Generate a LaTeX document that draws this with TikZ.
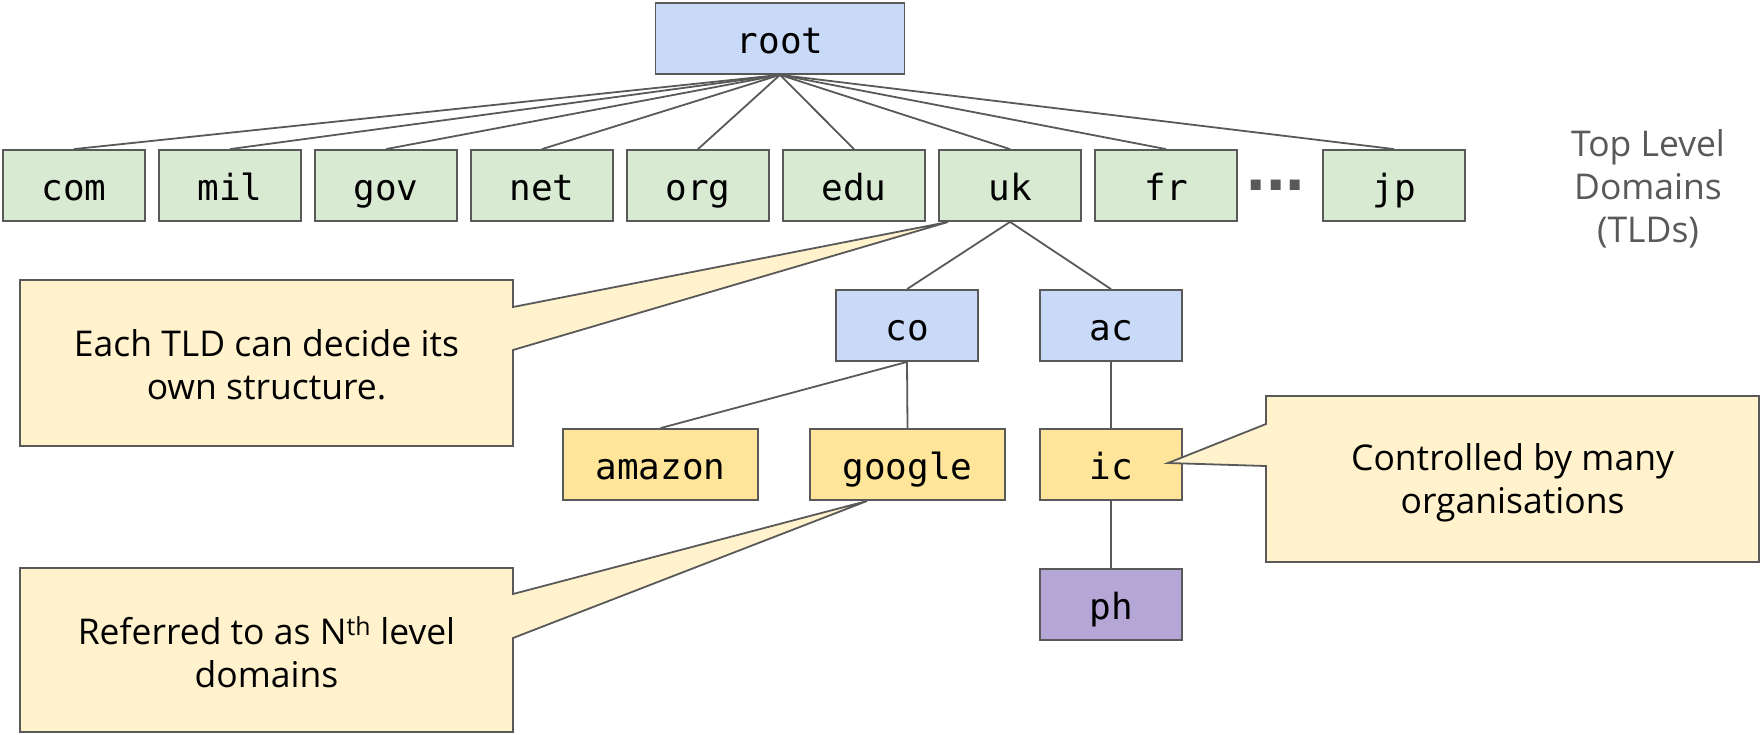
\documentclass[tikz,border=0pt]{standalone}
\usepackage{fontspec}
\setmainfont{Open Sans}
\newfontfamily\monof{DejaVu Sans Mono}
\newfontfamily\dotf{Liberation Sans}
\definecolor{edge}{HTML}{595959}
\definecolor{bluef}{HTML}{C9DAF8}
\definecolor{greenf}{HTML}{D9EAD3}
\definecolor{yellowf}{HTML}{FFE599}
\definecolor{notef}{HTML}{FFF2CC}
\definecolor{purplef}{HTML}{B4A7D6}
\definecolor{labelgray}{HTML}{595959}
\tikzset{
  dbox/.style={draw=edge, line width=1.8pt, minimum width=142pt, minimum height=71pt,
    inner sep=0pt, font=\monof\fontsize{36}{36}\selectfont, text height=34pt, text depth=5pt},
  bluebox/.style={dbox, fill=bluef},
  greenbox/.style={dbox, fill=greenf},
  yellowbox/.style={dbox, fill=yellowf},
  purplebox/.style={dbox, fill=purplef},
  conn/.style={draw=edge, line width=1.8pt},
  callout/.style={draw=edge, fill=notef, line width=1.8pt, line join=miter},
  calltext/.style={align=center, inner sep=0pt, font=\fontsize{35.5}{43}\selectfont},
}
\begin{document}
\begin{tikzpicture}[x=1pt, y=-1pt]
\useasboundingbox (0,0) rectangle (1761,734);
% tree nodes
\node[bluebox, minimum width=249pt] (root) at (780,38.5) {root};
\node[greenbox] (com) at (74,185.5) {com};
\node[greenbox] (mil) at (230,185.5) {mil};
\node[greenbox] (gov) at (386,185.5) {gov};
\node[greenbox] (net) at (542,185.5) {net};
\node[greenbox] (org) at (698,185.5) {org};
\node[greenbox] (edu) at (854,185.5) {edu};
\node[greenbox] (uk) at (1010,185.5) {uk};
\node[greenbox] (fr) at (1166,185.5) {fr};
\node[greenbox] (jp) at (1394,185.5) {jp};
\node[font=\dotf\bfseries\fontsize{70}{70}\selectfont, text=edge, anchor=base, inner sep=0pt] (dots) at (1276,190) {...};
\node[bluebox] (co) at (907,325.5) {co};
\node[bluebox] (ac) at (1111,325.5) {ac};
\node[yellowbox, minimum width=195pt] (amazon) at (660.5,464.5) {amazon};
\node[yellowbox, minimum width=195pt] (google) at (907.5,464.5) {google};
\node[yellowbox] (ic) at (1111,464.5) {ic};
\node[purplebox] (ph) at (1111,604.5) {ph};
% connectors
\foreach \t in {com,mil,gov,net,org,edu,uk,fr,jp}
  \draw[conn] (root.south) -- (\t.north);
\draw[conn] (uk.south) -- (co.north);
\draw[conn] (uk.south) -- (ac.north);
\draw[conn] (co.south) -- (amazon.north);
\draw[conn] (co.south) -- (google.north);
\draw[conn] (ac.south) -- (ic.north);
\draw[conn] (ic.south) -- (ph.north);
% label
\node[calltext, text=labelgray] (tld) at (1648,189) {Top Level\\Domains\\(TLDs)};
% callouts
\coordinate (tip1) at (948,222);
\coordinate (tip2) at (867,501);
\coordinate (tip3) at (1168,463);
\draw[callout] (20,280) -- (513,280) -- (513,307) -- (tip1) -- (513,350) -- (513,446) -- (20,446) -- cycle;
\draw[callout] (20,568) -- (513,568) -- (513,594) -- (tip2) -- (513,638) -- (513,732) -- (20,732) -- cycle;
\draw[callout] (1266,396) -- (1759,396) -- (1759,562) -- (1266,562) -- (1266,466) -- (tip3) -- (1266,424) -- cycle;
\node[calltext] (t1) at (266.5,365) {Each TLD can decide its\\own structure.};
\node[calltext] (t2) at (266.5,652) {Referred to as N\textsuperscript{th} level\\domains};
\node[calltext] (t3) at (1512.5,483) {Controlled by many\\organisations};
\end{tikzpicture}
\end{document}
